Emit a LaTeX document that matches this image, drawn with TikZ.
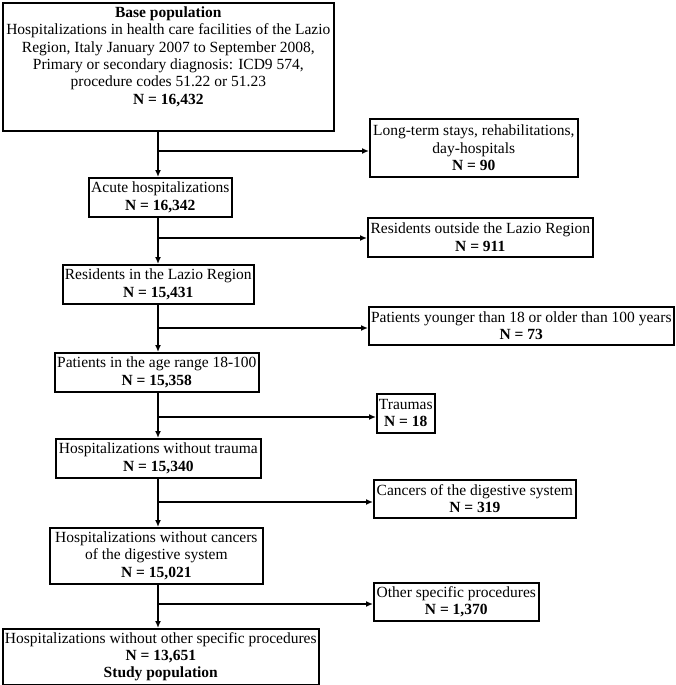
\documentclass[tikz,border=0pt]{standalone}
\usepackage{fontspec}
\setmainfont{Liberation Serif}
\usetikzlibrary{arrows.meta}
\usetikzlibrary{positioning}

\begin{document}
\begin{tikzpicture}[x=1pt,y=-1pt,>={Latex[length=7pt,width=6pt]},
box/.style={draw,line width=1.6pt,align=center,inner xsep=1.2pt,inner ysep=2pt,anchor=north west,
  font=\fontsize{15.5}{17.3}\selectfont},
flow/.style={line width=1.4pt,->}]
\useasboundingbox (0,0) rectangle (675,685);

% main column
\node[box,minimum width=331pt,inner ysep=4pt,text depth=23pt] (base) at (2,2) {\textbf{Base population}\\
Hospitalizations in health care facilities of the Lazio\\
Region, Italy January 2007 to September 2008,\\
Primary or secondary diagnosis: ICD9 574,\\
procedure codes 51.22 or 51.23\\
\textbf{N = 16,432}};
\node[box,minimum width=143pt,minimum height=39pt] (acute) at (88,177) {Acute hospitalizations\\ \textbf{N = 16,342}};
\node[box,minimum width=191pt,minimum height=39pt] (resin) at (62,264) {Residents in the Lazio Region\\ \textbf{N = 15,431}};
\node[box,minimum width=204pt,minimum height=39pt] (agein) at (54,352) {Patients in the age range 18-100\\ \textbf{N = 15,358}};
\node[box,minimum width=205pt,minimum height=39pt] (notrauma) at (55,438) {Hospitalizations without trauma\\ \textbf{N = 15,340}};
\node[box,minimum width=213pt,minimum height=56pt] (nocancer) at (49,527) {Hospitalizations without cancers\\ of the digestive system\\ \textbf{N = 15,021}};
\node[box,minimum width=316pt,minimum height=56pt] (study) at (2,628) {Hospitalizations without other specific procedures\\ \textbf{N = 13,651}\\ \textbf{Study population}};

% excluded
\node[box,minimum width=208pt,minimum height=58pt] (longterm) at (369,118) {Long-term stays, rehabilitations,\\ day-hospitals\\ \textbf{N = 90}};
\node[box,minimum width=225pt,minimum height=39pt] (resout) at (367,217) {Residents outside the Lazio Region\\ \textbf{N = 911}};
\node[box,minimum width=305pt,minimum height=38pt] (ageout) at (368,306) {Patients younger than 18 or older than 100 years\\ \textbf{N = 73}};
\node[box,minimum width=58pt,minimum height=39pt] (trauma) at (376,393) {Traumas\\ \textbf{N = 18}};
\node[box,minimum width=202pt,minimum height=38pt] (cancer) at (373,479) {Cancers of the digestive system\\ \textbf{N = 319}};
\node[box,minimum width=165pt,minimum height=38pt] (other) at (373,582) {Other specific procedures\\ \textbf{N = 1,370}};

\coordinate (tk) at (158,0);
\coordinate (b1) at (158,151);
\coordinate (b2) at (158,238);
\coordinate (b3) at (158,328);
\coordinate (b4) at (158,417);
\coordinate (b5) at (158,502);
\coordinate (b6) at (158,604);

\draw[flow] (base.south -| tk) -- (acute.north -| tk);
\draw[flow] (acute.south -| tk) -- (resin.north -| tk);
\draw[flow] (resin.south -| tk) -- (agein.north -| tk);
\draw[flow] (agein.south -| tk) -- (notrauma.north -| tk);
\draw[flow] (notrauma.south -| tk) -- (nocancer.north -| tk);
\draw[flow] (nocancer.south -| tk) -- (study.north -| tk);

\draw[flow] (b1) -- (b1 -| longterm.west);
\draw[flow] (b2) -- (b2 -| resout.west);
\draw[flow] (b3) -- (b3 -| ageout.west);
\draw[flow] (b4) -- (b4 -| trauma.west);
\draw[flow] (b5) -- (b5 -| cancer.west);
\draw[flow] (b6) -- (b6 -| other.west);
\end{tikzpicture}
\end{document}
